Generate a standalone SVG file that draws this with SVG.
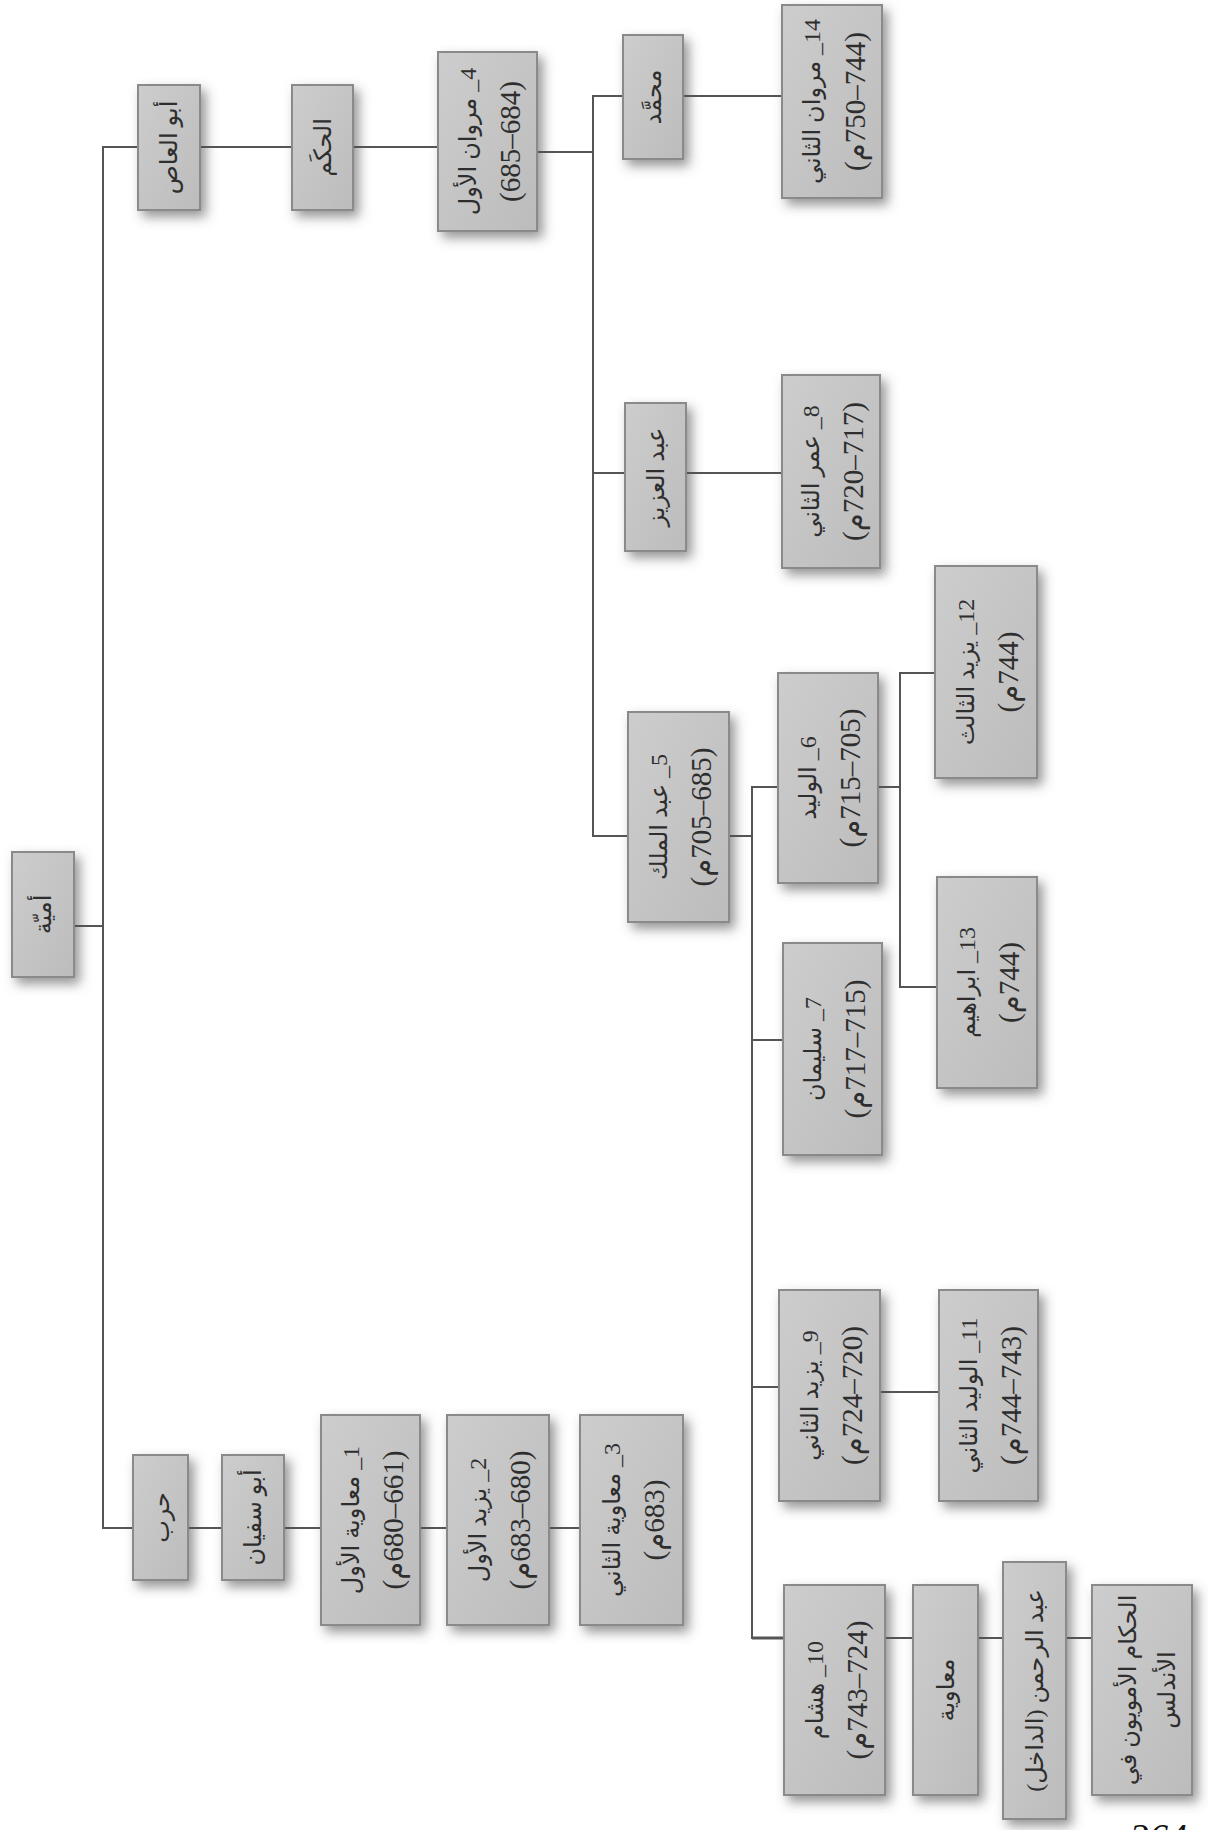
<svg xmlns="http://www.w3.org/2000/svg" width="1208" height="1830" viewBox="0 0 1208 1830">
<defs>
<filter id="sh" x="-40%" y="-30%" width="180%" height="160%">
<feDropShadow dx="5" dy="6" stdDeviation="6" flood-color="#505050" flood-opacity="0.6"/>
</filter>
<linearGradient id="bg" x1="0" y1="0" x2="1" y2="1">
<stop offset="0" stop-color="#cdcdcd"/>
<stop offset="1" stop-color="#bcbcbc"/>
</linearGradient>
</defs>
<style>
.box{fill:url(#bg);stroke:#8a8a8a;stroke-width:2;filter:url(#sh)}
.t{font-family:"Liberation Serif","DejaVu Sans",serif;fill:#2e2e2e;text-anchor:middle;dominant-baseline:central;direction:rtl}
.n{font-size:24px}
.d{font-size:29px}
.c{fill:none;stroke:#555;stroke-width:2}
</style>
<rect width="1208" height="1830" fill="#fff"/>
<g id="connectors" class="c">
<path d="M74 926H103"/>
<path d="M138 147H103V1528H133"/>
<path d="M200 147H292M353 147H438M537 152H593"/>
<path d="M623 96H593V836H628"/>
<path d="M683 96H782"/>
<path d="M593 473H625M686 473H782"/>
<path d="M729 836H752M778 787H752V1638H784"/>
<path d="M752 1040H783M752 1387H779"/>
<path d="M878 787H900M935 673H900V987H937"/>
<path d="M880 1392H939"/>
<path d="M885 1638H913M978 1638H1003M1066 1638H1092"/>
<path d="M188 1528H222M284 1528H321M420 1528H447M549 1528H580"/>
<path d="M752 1638H784" stroke-width="3"/>
</g>
<g id="umayya"><rect class="box" x="12" y="852" width="62" height="125"/><g transform="translate(43 914.5) rotate(-90)"><text class="t n">أميّة</text></g></g>
<g id="abu_al_as"><rect class="box" x="138" y="85" width="62" height="125"/><g transform="translate(169 147.5) rotate(-90)"><text class="t n">أبو العاص</text></g></g>
<g id="al_hakam"><rect class="box" x="292" y="85" width="61" height="125"/><g transform="translate(322.5 147.5) rotate(-90)"><text class="t n">الحكَم</text></g></g>
<g id="marwan1"><rect class="box" x="438" y="52" width="99" height="179"/><g transform="translate(487.5 141.5) rotate(-90)"><text class="t n" y="-20">4_ مروان الأول</text><text class="t d" y="22">(684–685)</text></g></g>
<g id="muhammad"><rect class="box" x="623" y="35" width="60" height="124"/><g transform="translate(653 97) rotate(-90)"><text class="t n">محمَّد</text></g></g>
<g id="marwan2"><rect class="box" x="782" y="5" width="100" height="193"/><g transform="translate(832 101.5) rotate(-90)"><text class="t n" y="-20">14_ مروان الثاني</text><text class="t d" y="23">(744–750م)</text></g></g>
<g id="abd_al_aziz"><rect class="box" x="625" y="403" width="61" height="148"/><g transform="translate(655.5 477) rotate(-90)"><text class="t n">عبد العزيز</text></g></g>
<g id="umar2"><rect class="box" x="782" y="375" width="98" height="193"/><g transform="translate(831 471.5) rotate(-90)"><text class="t n" y="-20">8_ عمر الثاني</text><text class="t d" y="22">(717–720م)</text></g></g>
<g id="abd_al_malik"><rect class="box" x="628" y="712" width="101" height="210"/><g transform="translate(678.5 817) rotate(-90)"><text class="t n" y="-20">5_ عبد الملك</text><text class="t d" y="22">(685–705م)</text></g></g>
<g id="al_walid1"><rect class="box" x="778" y="673" width="100" height="210"/><g transform="translate(828 778) rotate(-90)"><text class="t n" y="-20">6_ الوليد</text><text class="t d" y="22">(705–715م)</text></g></g>
<g id="yazid3"><rect class="box" x="935" y="566" width="102" height="212"/><g transform="translate(986 672) rotate(-90)"><text class="t n" y="-20">12_ يزيد الثالث</text><text class="t d" y="22">(744م)</text></g></g>
<g id="ibrahim"><rect class="box" x="937" y="877" width="100" height="211"/><g transform="translate(987 982.5) rotate(-90)"><text class="t n" y="-20">13_ ابراهيم</text><text class="t d" y="22">(744م)</text></g></g>
<g id="sulayman"><rect class="box" x="783" y="943" width="99" height="212"/><g transform="translate(832.5 1049) rotate(-90)"><text class="t n" y="-20">7_ سليمان</text><text class="t d" y="22">(715–717م)</text></g></g>
<g id="yazid2"><rect class="box" x="779" y="1290" width="101" height="211"/><g transform="translate(829.5 1395.5) rotate(-90)"><text class="t n" y="-20">9_ يزيد الثاني</text><text class="t d" y="22">(720–724م)</text></g></g>
<g id="al_walid2"><rect class="box" x="939" y="1290" width="99" height="211"/><g transform="translate(988.5 1395.5) rotate(-90)"><text class="t n" y="-20">11_ الوليد الثاني</text><text class="t d" y="22">(743–744م)</text></g></g>
<g id="hisham"><rect class="box" x="784" y="1585" width="101" height="210"/><g transform="translate(834.5 1690) rotate(-90)"><text class="t n" y="-20">10_ هشام</text><text class="t d" y="22">(724–743م)</text></g></g>
<g id="muawiya"><rect class="box" x="913" y="1585" width="65" height="210"/><g transform="translate(945.5 1690) rotate(-90)"><text class="t n">معاوية</text></g></g>
<g id="abd_al_rahman"><rect class="box" x="1003" y="1562" width="63" height="257"/><g transform="translate(1034.5 1690.5) rotate(-90)"><text class="t n">عبد الرحمن (الداخل)</text></g></g>
<g id="andalus"><rect class="box" x="1092" y="1585" width="100" height="210"/><g transform="translate(1142 1690) rotate(-90)"><text class="t n" y="-14">الحكام الأمويون في</text><text class="t n" y="25">الأندلس</text></g></g>
<g id="harb"><rect class="box" x="133" y="1455" width="55" height="125"/><g transform="translate(160.5 1517.5) rotate(-90)"><text class="t n">حرب</text></g></g>
<g id="abu_sufyan"><rect class="box" x="222" y="1455" width="62" height="125"/><g transform="translate(253 1517.5) rotate(-90)"><text class="t n">أبو سفيان</text></g></g>
<g id="muawiya1"><rect class="box" x="321" y="1415" width="99" height="210"/><g transform="translate(370.5 1520) rotate(-90)"><text class="t n" y="-20">1_ معاوية الأول</text><text class="t d" y="22">(661–680م)</text></g></g>
<g id="yazid1"><rect class="box" x="447" y="1415" width="102" height="210"/><g transform="translate(498 1520) rotate(-90)"><text class="t n" y="-20">2_ يزيد الأول</text><text class="t d" y="22">(680–683م)</text></g></g>
<g id="muawiya2"><rect class="box" x="580" y="1415" width="103" height="210"/><g transform="translate(631.5 1520) rotate(-90)"><text class="t n" y="-20">3_ معاوية الثاني</text><text class="t d" y="22">(683م)</text></g></g>
<text x="1130" y="1850" font-family="Liberation Serif, serif" font-style="italic" font-size="38" fill="#111">364</text>
</svg>
